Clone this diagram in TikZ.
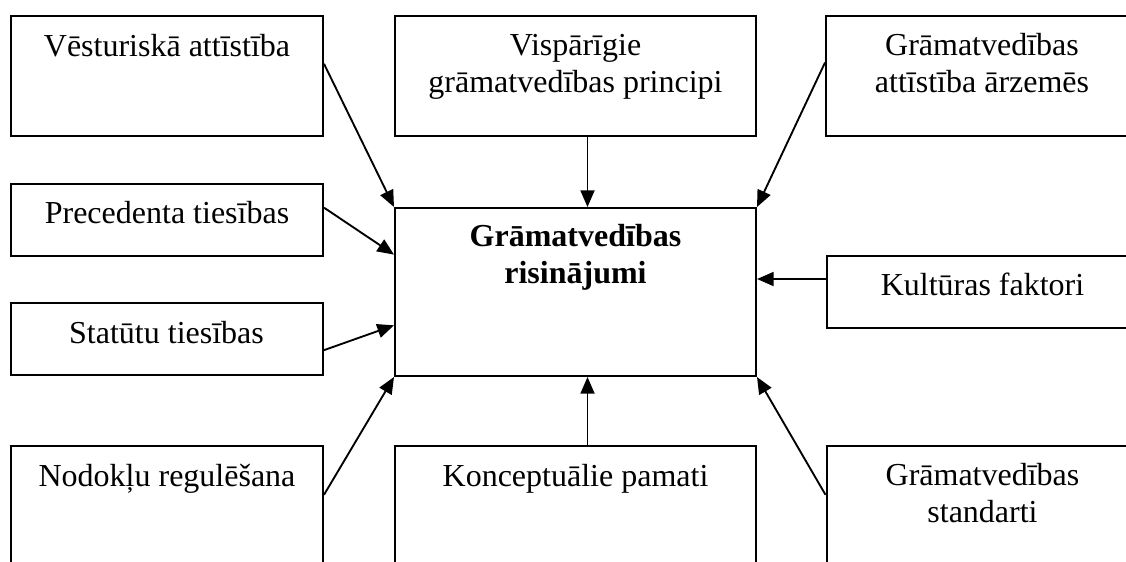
\documentclass[tikz,border=0pt]{standalone}
\usepackage{fontspec}
\setmainfont{Liberation Serif}
\usetikzlibrary{calc,arrows.meta}
\newcommand{\boxlines}[1]{\begin{tabular}[t]{@{}c@{}}#1\end{tabular}}
\begin{document}
\begin{tikzpicture}[x=0.75pt,y=-0.75pt,
  box/.style={draw,line width=1.5pt,inner sep=0pt,minimum height=#1*0.75pt},
  box/.default=120,
  narrow/.style={minimum width=312*0.75pt},
  wide/.style={minimum width=361*0.75pt},
  label text/.style={anchor=base,inner sep=0pt,font=\fontsize{24}{27.75}\selectfont},
  link/.style={line width=1.4pt,-{Triangle[length=12.5pt,width=10.5pt]}}]
\useasboundingbox (0,0) rectangle (1126,561);
\clip (0,0) rectangle (1126,561);

% boxes
\node[box,narrow] (vest) at (167,76) {};
\node[box,wide]   (visp) at (575.5,76) {};
\node[box,narrow] (arz)  at (982,76) {};
\node[box=72,narrow] (prec) at (167,220) {};
\node[box=72,narrow] (stat) at (166.5,339) {};
\node[box=72,narrow] (kult) at (982.5,291.5) {};
\node[box=168,wide] (core) at (575.5,292) {};
\node[box,narrow] (nod)  at (167,506) {};
\node[box,wide]   (konc) at (575.5,506) {};
\node[box,narrow] (std)  at (982.5,506) {};

% texts
\node[label text] (tvest) at ($(vest.north)+(0,41)$) {\boxlines{Vēsturiskā attīstība}};
\node[label text] (tvisp) at ($(visp.north)+(0,40)$) {\boxlines{Vispārīgie\\grāmatvedības principi}};
\node[label text] (tarz)  at ($(arz.north)+(0,40)$) {\boxlines{Grāmatvedības\\attīstība ārzemēs}};
\node[label text] (tprec) at ($(prec.north)+(0,40)$) {\boxlines{Precedenta tiesības}};
\node[label text] (tstat) at ($(stat.north)+(0,41)$) {\boxlines{Statūtu tiesības}};
\node[label text] (tkult) at ($(kult.north)+(0,41)$) {\boxlines{Kultūras faktori}};
\node[label text] (tcore) at ($(core.north)+(0,39)$) {\boxlines{\bfseries Grāmatvedības\\\bfseries risinājumi}};
\node[label text] (tnod)  at ($(nod.north)+(0,41)$) {\boxlines{Nodokļu regulēšana}};
\node[label text] (tkonc) at ($(konc.north)+(0,41)$) {\boxlines{Konceptuālie pamati}};
\node[label text] (tstd)  at ($(std.north)+(0,40)$) {\boxlines{Grāmatvedības\\standarti}};

% connectors
\coordinate (kultout) at ($(kult.west)+(0,-12.5)$);
\draw[link] ($(vest.north east)!0.4!(vest.south east)$) -- (core.north west);
\draw[link] ($(visp.south)+(12,0)$) -- ($(core.north)+(12,0)$);
\draw[link] ($(arz.north west)!0.39!(arz.south west)$) -- (core.north east);
\draw[link] ($(prec.north east)!0.333!(prec.south east)$) -- ($(core.north west)!0.28!(core.south west)$);
\draw[link] ($(stat.north east)!0.653!(stat.south east)$) -- ($(core.north west)!0.696!(core.south west)$);
\draw[link] (kultout) -- (kultout -| core.east);
\draw[link] ($(nod.north east)!0.408!(nod.south east)$) -- (core.south west);
\draw[link] ($(konc.north)+(12,0)$) -- ($(core.south)+(12,0)$);
\draw[link] ($(std.north west)!0.408!(std.south west)$) -- (core.south east);
\end{tikzpicture}
\end{document}
